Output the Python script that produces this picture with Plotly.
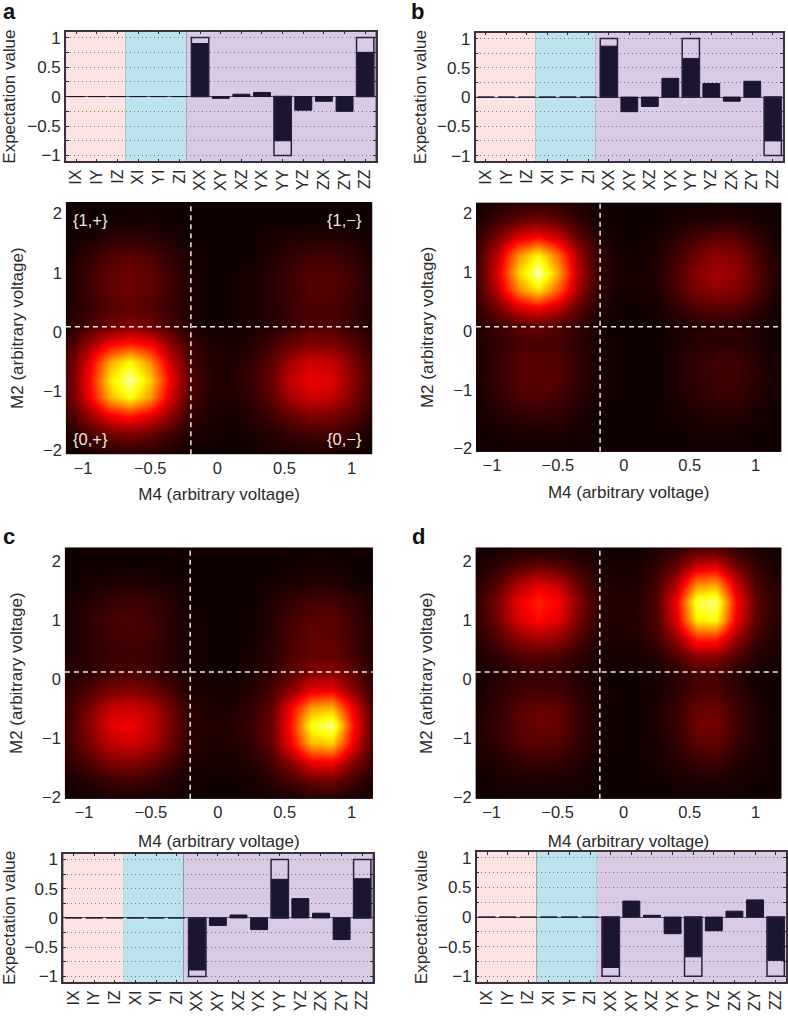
#%%
import plotly.graph_objects as go

#%%
# correlator bars
operators = ["IX", "IY", "IZ", "XI", "YI", "ZI", "XX", "XY", "XZ", "YX", "YY", "YZ", "ZX", "ZY", "ZZ"]

measured_a = [0, 0, 0, 0, 0, 0, 0.90, -0.03, 0.04, 0.07, -0.75, -0.23, -0.08, -0.25, 0.75]
measured_b = [0, 0, 0, 0, 0, 0, 0.87, -0.25, -0.16, 0.32, 0.66, 0.23, -0.07, 0.27, -0.75]
measured_c = [0, 0, 0, 0, 0, 0, -0.89, -0.13, 0.05, -0.20, 0.66, 0.33, 0.08, -0.37, 0.67]
measured_d = [0, 0, 0, 0, 0, 0, -0.85, 0.27, 0.03, -0.28, -0.67, -0.23, 0.10, 0.29, -0.73]

ideal_a = [None] * 6 + [1, None, None, None, -1, None, None, None, 1]
ideal_b = [None] * 6 + [1, None, None, None, 1, None, None, None, -1]
ideal_c = [None] * 6 + [-1, None, None, None, 1, None, None, None, 1]
ideal_d = [None] * 6 + [-1, None, None, None, -1, None, None, None, -1]

expect_ticks = [-1, -0.75, -0.5, -0.25, 0, 0.25, 0.5, 0.75, 1]
expect_ticktext = ["\u22121", "", "\u22120.5", "", "0", "", "0.5", "", "1"]

# histogram cells on a coarse grid (0-100 colour scale)
m4_bins = [-1.1, -0.95, -0.8, -0.65, -0.5, -0.35, -0.2, -0.05, 0.1, 0.25, 0.4, 0.55, 0.7, 0.85, 1.0, 1.15]
m2_bins = [2.2, 1.9, 1.6, 1.3, 1.0, 0.7, 0.4, 0.1, -0.2, -0.5, -0.8, -1.1, -1.4, -1.7, -2.0]

counts_a = [
    [1, 1, 1, 1, 1, 1, 1, 1, 1, 1, 1, 1, 1, 1, 1, 1],
    [1, 1, 1, 2, 2, 1, 1, 1, 1, 1, 1, 1, 1, 1, 1, 1],
    [1, 2, 5, 6, 5, 3, 1, 1, 1, 1, 2, 3, 4, 4, 3, 1],
    [2, 6, 10, 12, 10, 6, 2, 1, 1, 1, 3, 6, 8, 8, 6, 2],
    [3, 8, 13, 15, 13, 8, 3, 1, 1, 2, 4, 8, 11, 11, 8, 3],
    [3, 8, 13, 15, 13, 8, 3, 1, 1, 2, 4, 8, 11, 11, 8, 3],
    [3, 7, 11, 13, 11, 7, 3, 1, 1, 2, 4, 7, 10, 10, 7, 3],
    [4, 10, 15, 18, 15, 9, 3, 1, 1, 2, 4, 7, 10, 10, 7, 3],
    [8, 22, 36, 42, 36, 20, 7, 3, 2, 4, 8, 14, 18, 17, 12, 5],
    [12, 34, 64, 78, 60, 30, 9, 4, 3, 6, 12, 24, 30, 28, 18, 7],
    [13, 38, 74, 92, 70, 36, 10, 4, 3, 7, 14, 28, 34, 32, 20, 8],
    [12, 36, 66, 80, 62, 31, 9, 4, 3, 6, 12, 24, 30, 28, 18, 7],
    [8, 22, 36, 42, 34, 20, 6, 3, 2, 4, 8, 14, 18, 17, 12, 5],
    [4, 10, 16, 18, 15, 9, 3, 2, 1, 2, 4, 7, 9, 9, 6, 2],
    [1, 3, 5, 6, 5, 3, 1, 1, 1, 1, 2, 3, 3, 3, 2, 1],
]
counts_b = [
    [1, 3, 4, 5, 4, 3, 1, 1, 1, 1, 1, 1, 1, 1, 1, 1],
    [3, 8, 13, 16, 12, 6, 2, 1, 1, 1, 2, 3, 4, 4, 2, 1],
    [6, 17, 31, 37, 28, 13, 4, 1, 1, 2, 5, 9, 12, 11, 6, 2],
    [9, 28, 60, 76, 54, 22, 6, 2, 1, 3, 8, 15, 20, 18, 10, 3],
    [10, 33, 70, 94, 64, 26, 7, 2, 2, 4, 10, 19, 23, 21, 12, 4],
    [9, 28, 58, 74, 52, 22, 6, 2, 2, 3, 9, 17, 20, 18, 11, 3],
    [6, 17, 30, 36, 27, 13, 4, 1, 1, 2, 6, 10, 12, 11, 6, 2],
    [4, 8, 12, 14, 11, 6, 2, 1, 1, 1, 3, 4, 5, 5, 3, 1],
    [3, 6, 9, 10, 9, 5, 2, 1, 1, 1, 2, 4, 5, 5, 3, 1],
    [3, 7, 11, 12, 11, 6, 2, 1, 1, 1, 3, 6, 8, 8, 4, 2],
    [3, 7, 11, 12, 11, 6, 2, 1, 1, 1, 3, 6, 8, 8, 5, 2],
    [2, 6, 10, 11, 9, 5, 2, 1, 1, 1, 3, 5, 7, 7, 4, 2],
    [2, 4, 6, 7, 6, 3, 1, 1, 1, 1, 2, 3, 4, 4, 2, 1],
    [1, 2, 3, 3, 3, 2, 1, 1, 1, 1, 1, 2, 2, 2, 1, 1],
    [1, 1, 1, 1, 1, 1, 1, 1, 1, 1, 1, 1, 1, 1, 1, 1],
]
counts_c = [
    [1, 1, 1, 1, 1, 1, 1, 1, 1, 1, 1, 1, 1, 1, 1, 1],
    [1, 1, 1, 1, 1, 1, 1, 1, 1, 1, 1, 1, 2, 2, 1, 1],
    [1, 2, 3, 4, 3, 2, 1, 1, 1, 1, 2, 3, 4, 4, 2, 1],
    [2, 4, 7, 8, 7, 4, 1, 1, 1, 1, 3, 6, 9, 9, 6, 2],
    [3, 6, 9, 10, 8, 5, 2, 1, 1, 1, 4, 9, 12, 12, 8, 3],
    [3, 5, 8, 9, 8, 5, 2, 1, 1, 1, 4, 9, 13, 13, 8, 4],
    [3, 5, 7, 8, 7, 4, 2, 1, 1, 2, 5, 10, 14, 14, 9, 4],
    [4, 6, 9, 10, 8, 5, 2, 1, 1, 2, 6, 12, 18, 19, 13, 5],
    [6, 11, 17, 19, 15, 9, 3, 2, 2, 4, 9, 20, 34, 36, 20, 7],
    [8, 18, 29, 30, 26, 15, 5, 3, 3, 6, 13, 36, 64, 68, 36, 10],
    [9, 21, 33, 35, 28, 16, 5, 4, 4, 7, 14, 40, 80, 90, 42, 11],
    [8, 18, 28, 30, 25, 14, 5, 3, 3, 6, 13, 36, 66, 70, 36, 10],
    [6, 11, 18, 19, 15, 9, 3, 2, 2, 4, 9, 20, 35, 37, 20, 7],
    [3, 5, 8, 9, 7, 4, 2, 1, 1, 2, 5, 9, 15, 16, 9, 3],
    [1, 2, 3, 3, 3, 2, 1, 1, 1, 1, 2, 3, 5, 5, 3, 2],
]
counts_d = [
    [1, 2, 3, 3, 3, 2, 1, 1, 1, 3, 6, 10, 10, 6, 2, 1],
    [3, 6, 11, 14, 12, 7, 3, 2, 2, 6, 14, 30, 32, 16, 6, 2],
    [5, 12, 25, 33, 28, 14, 5, 3, 3, 9, 26, 60, 64, 30, 10, 4],
    [7, 17, 34, 42, 37, 19, 6, 3, 4, 11, 36, 84, 88, 38, 13, 5],
    [6, 16, 31, 38, 33, 17, 5, 3, 4, 10, 33, 76, 80, 35, 12, 4],
    [5, 11, 20, 24, 21, 11, 4, 3, 3, 8, 22, 44, 44, 22, 8, 3],
    [3, 6, 10, 12, 10, 6, 2, 2, 2, 4, 11, 20, 20, 11, 4, 2],
    [2, 4, 6, 7, 6, 4, 2, 1, 1, 2, 5, 9, 9, 5, 2, 1],
    [2, 5, 8, 9, 9, 5, 2, 1, 1, 2, 5, 10, 10, 6, 2, 1],
    [3, 6, 11, 14, 13, 7, 2, 1, 1, 3, 7, 14, 15, 8, 3, 1],
    [3, 7, 12, 15, 14, 7, 2, 1, 1, 3, 7, 15, 16, 9, 3, 1],
    [3, 6, 10, 12, 11, 6, 2, 1, 1, 2, 6, 12, 13, 7, 3, 1],
    [2, 3, 6, 7, 6, 4, 1, 1, 1, 2, 4, 7, 8, 4, 2, 1],
    [1, 2, 3, 3, 3, 2, 1, 1, 1, 1, 2, 3, 3, 2, 1, 1],
    [1, 1, 1, 1, 1, 1, 1, 1, 1, 1, 1, 1, 1, 1, 1, 1],
]

m4_ticks = [-1, -0.5, 0, 0.5, 1]
m4_ticktext = ["\u22121", "\u22120.5", "0", "0.5", "1"]
m2_ticks = [-2, -1, 0, 1, 2]
m2_ticktext = ["\u22122", "\u22121", "0", "1", "2"]

# threshold positions of the dashed lines, one per panel
threshold_m4 = [-0.197, -0.18, -0.206, -0.18]
threshold_m2 = [0.09, 0.073, 0.114, 0.114]

state_labels = ["{1,+}", "{1,\u2212}", "{0,+}", "{0,\u2212}"]
panel_letters = ["a", "b", "c", "d"]

#%%
# page layout in pixels of the 788x1018 window
W, H = 788, 1018
FONT = "Liberation Sans"
TEXT = "#2a2a2a"

bar_boxes = [(66, 376, 29, 160), (476.3, 784, 30, 160), (63.3, 373, 859, 989), (477.3, 787, 857.3, 989)]
heat_boxes = [(66, 372.7, 201, 455.7), (476.7, 782.3, 201.7, 453.3), (65, 373.3, 550, 803.7), (476.3, 782.3, 550, 803.7)]
m4_ranges = [(-1.128, 1.154), (-1.12, 1.194), (-1.142, 1.159), (-1.12, 1.194)]
m2_ranges = [(-2.06, 2.196), (-2.057, 2.185), (-2.034, 2.223), (-2.034, 2.223)]
letter_spots = [(1, 18), (410, 18), (1, 548), (411, 548)]

bar_standoff = [8, 6, 8, 6]
heat_standoff = [15, 15, 15, 15]
xtitle_standoff = [12, 12, 14, 14]

hot = [[0, "#0a0000"], [0.37, "#ff0000"], [0.78, "#ffff00"], [1, "#ffffff"]]

measured = [measured_a, measured_b, measured_c, measured_d]
ideal = [ideal_a, ideal_b, ideal_c, ideal_d]
counts = [counts_a, counts_b, counts_c, counts_d]


def x_dom(left, right):
    return [left / W, min(right / W, 1)]


def y_dom(top, bottom):
    return [1 - bottom / H, 1 - top / H]


def suffix(n):
    # plotly calls the first axis pair x / y
    return "" if n == 1 else str(n)


#%%
def add_bar_panel(fig, i, n):
    left, right, top, bottom = bar_boxes[i]
    xa, ya = "x" + suffix(n), "y" + suffix(n)
    fig.add_trace(
        go.Bar(
            x=operators,
            y=measured[i],
            width=0.82,
            marker=dict(color="#1b1530", line=dict(color="#1b1530", width=1)),
            xaxis=xa,
            yaxis=ya,
            showlegend=False,
        )
    )
    fig.add_trace(
        go.Bar(
            x=operators,
            y=ideal[i],
            width=0.84,
            marker=dict(color="rgba(0,0,0,0)", line=dict(color="#2a2140", width=1.5)),
            xaxis=xa,
            yaxis=ya,
            showlegend=False,
        )
    )
    # background bands behind the one and two qubit operators
    for x0, x1, color in [(-0.5, 2.4, "#fde3e1"), (2.4, 5.33, "#bde4ec"), (5.33, 14.5, "#d9cbe3")]:
        fig.add_shape(
            type="rect",
            xref=xa,
            yref=f"{ya} domain",
            x0=x0,
            x1=x1,
            y0=0,
            y1=1,
            fillcolor=color,
            line_width=0,
            layer="below",
        )
    fig.update_layout(
        {
            "xaxis" + suffix(n): dict(
                domain=x_dom(left, right),
                anchor=ya,
                type="category",
                categoryorder="array",
                categoryarray=operators,
                range=[-0.5, 14.5],
                tickangle=-90,
                tickfont=dict(size=16, color=TEXT),
                ticks="inside",
                ticklen=3,
                tickcolor="#2a2a2a",
                showgrid=False,
                showline=True,
                linecolor="#3a3040",
                linewidth=1.5,
                mirror="ticks",
            ),
            "yaxis" + suffix(n): dict(
                domain=y_dom(top, bottom),
                anchor=xa,
                range=[-1.1, 1.1],
                tickvals=expect_ticks,
                ticktext=expect_ticktext,
                tickfont=dict(size=17, color=TEXT),
                ticks="inside",
                ticklen=3,
                tickcolor="#2a2a2a",
                showgrid=True,
                griddash="1px,3px",
                gridcolor="#77757c",
                gridwidth=1,
                zeroline=True,
                zerolinecolor="#5a5060",
                zerolinewidth=1,
                showline=True,
                linecolor="#3a3040",
                linewidth=1.5,
                mirror="ticks",
                title=dict(text="Expectation value", font=dict(size=17, color=TEXT), standoff=bar_standoff[i]),
            ),
        }
    )


#%%
def add_heat_panel(fig, i, n):
    left, right, top, bottom = heat_boxes[i]
    xa, ya = "x" + suffix(n), "y" + suffix(n)
    fig.add_trace(
        go.Heatmap(
            x=m4_bins,
            y=m2_bins,
            z=counts[i],
            colorscale=hot,
            zmin=0,
            zmax=100,
            zsmooth="best",
            showscale=False,
            xaxis=xa,
            yaxis=ya,
        )
    )
    dash = dict(color="#f2ece6", width=1.5, dash="5px,4px")
    fig.add_shape(type="line", xref=xa, yref=f"{ya} domain", x0=threshold_m4[i], x1=threshold_m4[i], y0=0, y1=1, line=dash)
    fig.add_shape(type="line", xref=f"{xa} domain", yref=ya, x0=0, x1=1, y0=threshold_m2[i], y1=threshold_m2[i], line=dash)
    fig.update_layout(
        {
            "xaxis" + suffix(n): dict(
                domain=x_dom(left, right),
                anchor=ya,
                range=list(m4_ranges[i]),
                tickvals=m4_ticks,
                ticktext=m4_ticktext,
                tickfont=dict(size=16.5, color=TEXT),
                ticks="",
                ticklabelstandoff=2,
                showgrid=False,
                zeroline=False,
                title=dict(text="M4 (arbitrary voltage)", font=dict(size=17, color=TEXT), standoff=xtitle_standoff[i]),
            ),
            "yaxis" + suffix(n): dict(
                domain=y_dom(top, bottom),
                anchor=xa,
                range=list(m2_ranges[i]),
                tickvals=m2_ticks,
                ticktext=m2_ticktext,
                tickfont=dict(size=16.5, color=TEXT),
                ticks="",
                ticklabelstandoff=3,
                showgrid=False,
                zeroline=False,
                title=dict(text="M2 (arbitrary voltage)", font=dict(size=17, color=TEXT), standoff=heat_standoff[i]),
            ),
        }
    )


#%%
fig = go.Figure()
for i in range(4):
    add_bar_panel(fig, i, 2 * i + 1)
    add_heat_panel(fig, i, 2 * i + 2)

annotations = []
for letter, (px, py) in zip(panel_letters, letter_spots):
    annotations.append(
        dict(
            text=f"<b>{letter}</b>",
            xref="paper",
            yref="paper",
            x=px / W,
            y=1 - py / H,
            xanchor="left",
            yanchor="bottom",
            yshift=-5,
            showarrow=False,
            font=dict(size=22, color="#111111"),
        )
    )
# quadrant labels are only printed on panel a
for text, (px, py) in zip(state_labels, [(90.7, 219.3), (345, 219.3), (90.7, 440.7), (345, 440.7)]):
    annotations.append(
        dict(
            text=text,
            xref="paper",
            yref="paper",
            x=px / W,
            y=1 - py / H,
            xanchor="center",
            yanchor="middle",
            showarrow=False,
            font=dict(size=16.5, color="#efe6de"),
        )
    )

fig.update_layout(
    width=W,
    height=H,
    autosize=False,
    margin=dict(l=0, r=0, t=0, b=0),
    paper_bgcolor="white",
    plot_bgcolor="#0a0000",
    barmode="overlay",
    bargap=0.18,
    font=dict(family=FONT, color=TEXT),
    annotations=annotations,
)

# the page's default 8px body margin would push the figure off the window
fig.write_html(
    "out.html",
    config={"displayModeBar": False},
    post_script="document.body.style.margin = '0';",
)
